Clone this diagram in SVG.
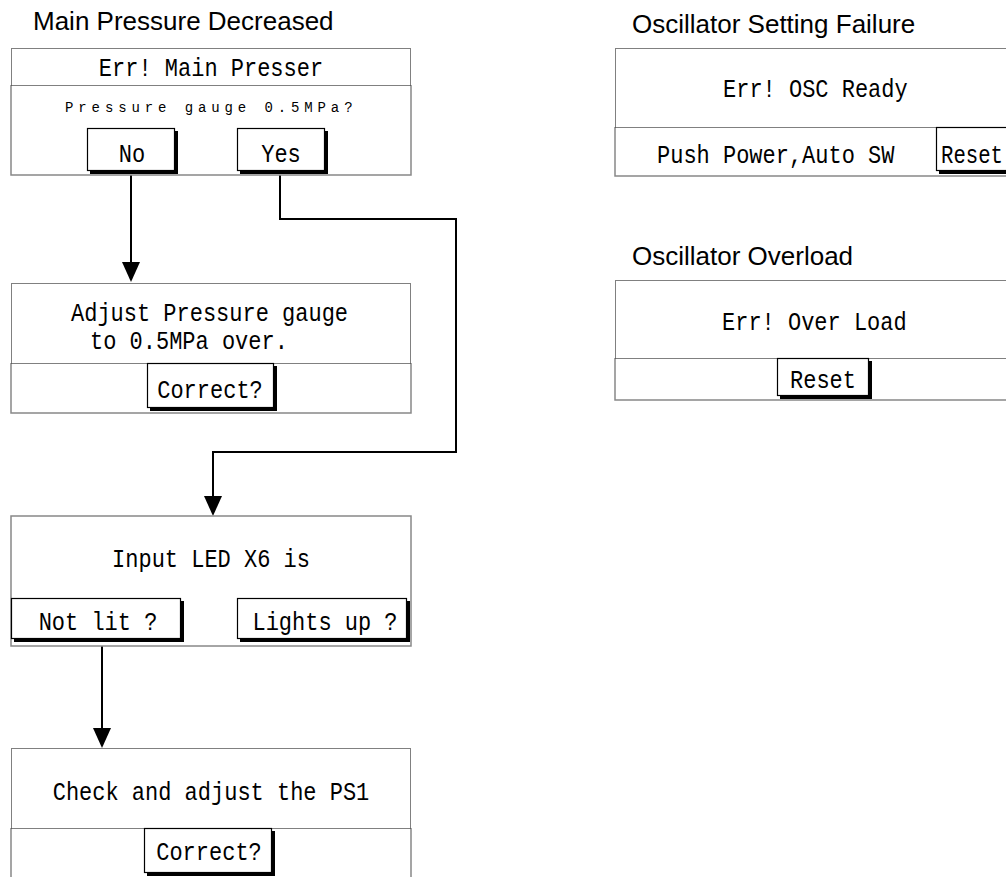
<svg xmlns="http://www.w3.org/2000/svg" width="1006" height="877" viewBox="0 0 1006 877">
  <style>
    .title { font-family: "Liberation Sans", Arial, sans-serif; font-size: 26px; fill: #000; }
    .lcd { font-family: "Liberation Mono", "DejaVu Sans Mono", monospace; font-size: 22px; fill: #000; }
    .lcd-small { font-family: "Liberation Mono", "DejaVu Sans Mono", monospace; font-size: 14px; letter-spacing: 4.9px; fill: #000; }
    .mid { text-anchor: middle; }
    .hdr { fill: #fff; stroke: #000; stroke-width: 1; stroke-dasharray: 1 1; }
    .frame { fill: none; stroke: #888; stroke-width: 1.5; }
    .btn { fill: #fff; stroke: #000; stroke-width: 1.2; }
    .shadow { fill: #000; }
    .conn { fill: none; stroke: #000; stroke-width: 2; }
  </style>
  <defs>
    <marker id="arrow" viewBox="0 0 20 18" refX="0" refY="9" markerWidth="20" markerHeight="18" markerUnits="userSpaceOnUse" orient="auto">
      <path d="M0,0 L20,9 L0,18 z" fill="#000"/>
    </marker>
  </defs>

  <rect width="1006" height="877" fill="#fff"/>

  <!-- section titles -->
  <text class="title" x="33" y="30">Main Pressure Decreased</text>
  <text class="title" x="632" y="33">Oscillator Setting Failure</text>
  <text class="title" x="632" y="265">Oscillator Overload</text>

  <!-- connectors -->
  <g id="connectors">
    <path class="conn" d="M131,175 V262" marker-end="url(#arrow)"/>
    <path class="conn" d="M280,175 V219 H456 V452 H213 V496" marker-end="url(#arrow)"/>
    <path class="conn" d="M102,646 V728" marker-end="url(#arrow)"/>
  </g>

  <!-- LCD texts use a tall, narrow face: glyphs are stretched vertically around their baseline -->

  <!-- Err! Main Presser screen -->
  <g id="main-presser">
    <path class="frame" d="M11,85 V175 H411 V85"/>
    <rect class="hdr" x="11.5" y="48.5" width="399" height="37"/>
    <text class="lcd mid" transform="translate(211,76) scale(1,1.2)">Err! Main Presser</text>
    <text class="lcd-small" transform="translate(65,112) scale(1,1.1)">Pressure gauge 0.5MPa?</text>
    <g id="btn-no">
      <rect class="shadow" x="90" y="131" width="88" height="43"/>
      <rect class="btn" x="87.5" y="128.5" width="87" height="42"/>
      <text class="lcd mid" transform="translate(132,162) scale(1,1.2)">No</text>
    </g>
    <g id="btn-yes">
      <rect class="shadow" x="240" y="131" width="88" height="43"/>
      <rect class="btn" x="237.5" y="128.5" width="87" height="42"/>
      <text class="lcd mid" transform="translate(281,162) scale(1,1.2)">Yes</text>
    </g>
  </g>

  <!-- Adjust pressure gauge screen -->
  <g id="adjust-gauge">
    <path class="frame" d="M11,363 V413 H411 V363"/>
    <rect class="hdr" x="11.5" y="283.5" width="399" height="80"/>
    <text class="lcd" transform="translate(71,321) scale(1,1.15)">Adjust Pressure gauge</text>
    <text class="lcd" transform="translate(90,349) scale(1,1.15)">to 0.5MPa over.</text>
    <g id="btn-correct-1">
      <rect class="shadow" x="150" y="366" width="127" height="45"/>
      <rect class="btn" x="147.5" y="363.5" width="126" height="44"/>
      <text class="lcd mid" transform="translate(210,398) scale(1,1.2)">Correct?</text>
    </g>
  </g>

  <!-- Input LED X6 screen -->
  <g id="input-led">
    <rect class="frame" x="11" y="516" width="400" height="130"/>
    <text class="lcd mid" transform="translate(211,567) scale(1,1.2)">Input LED X6 is</text>
    <g id="btn-not-lit">
      <rect class="shadow" x="14" y="601" width="170" height="41"/>
      <rect class="btn" x="11.5" y="598.5" width="169" height="40"/>
      <text class="lcd mid" transform="translate(98,630) scale(1,1.2)">Not lit ?</text>
    </g>
    <g id="btn-lights-up">
      <rect class="shadow" x="240" y="601" width="170" height="41"/>
      <rect class="btn" x="237.5" y="598.5" width="169" height="40"/>
      <text class="lcd mid" transform="translate(325,630) scale(1,1.2)">Lights up ?</text>
    </g>
  </g>

  <!-- Check PS1 screen -->
  <g id="check-ps1">
    <path class="frame" d="M11,828 V877 M411,828 V877"/>
    <rect class="hdr" x="11.5" y="748.5" width="399" height="80"/>
    <text class="lcd mid" transform="translate(211,800) scale(1,1.2)">Check and adjust the PS1</text>
    <g id="btn-correct-2">
      <rect class="shadow" x="147" y="831" width="128" height="45"/>
      <rect class="btn" x="144.5" y="828.5" width="127" height="44"/>
      <text class="lcd mid" transform="translate(209,860) scale(1,1.2)">Correct?</text>
    </g>
  </g>

  <!-- Err! OSC Ready screen -->
  <g id="osc-ready">
    <path class="frame" d="M615,127 V176 H1006"/>
    <rect class="hdr" x="615.5" y="48.5" width="400" height="79"/>
    <text class="lcd" transform="translate(723,97) scale(1,1.2)">Err! OSC Ready</text>
    <text class="lcd" transform="translate(657,163) scale(1,1.2)">Push Power,Auto SW</text>
    <g id="btn-reset-1">
      <rect class="shadow" x="939" y="130" width="80" height="44"/>
      <rect class="btn" x="936.5" y="127.5" width="80" height="43"/>
      <text class="lcd" transform="translate(941,163) scale(1,1.2)" textLength="62" lengthAdjust="spacingAndGlyphs">Reset</text>
    </g>
  </g>

  <!-- Err! Over Load screen -->
  <g id="over-load">
    <path class="frame" d="M615,358 V400 H1006"/>
    <rect class="hdr" x="615.5" y="280.5" width="400" height="78"/>
    <text class="lcd" transform="translate(722,330) scale(1,1.2)">Err! Over Load</text>
    <g id="btn-reset-2">
      <rect class="shadow" x="780" y="361" width="92" height="38"/>
      <rect class="btn" x="777.5" y="358.5" width="91" height="37"/>
      <text class="lcd mid" transform="translate(823,388) scale(1,1.2)">Reset</text>
    </g>
  </g>
</svg>
